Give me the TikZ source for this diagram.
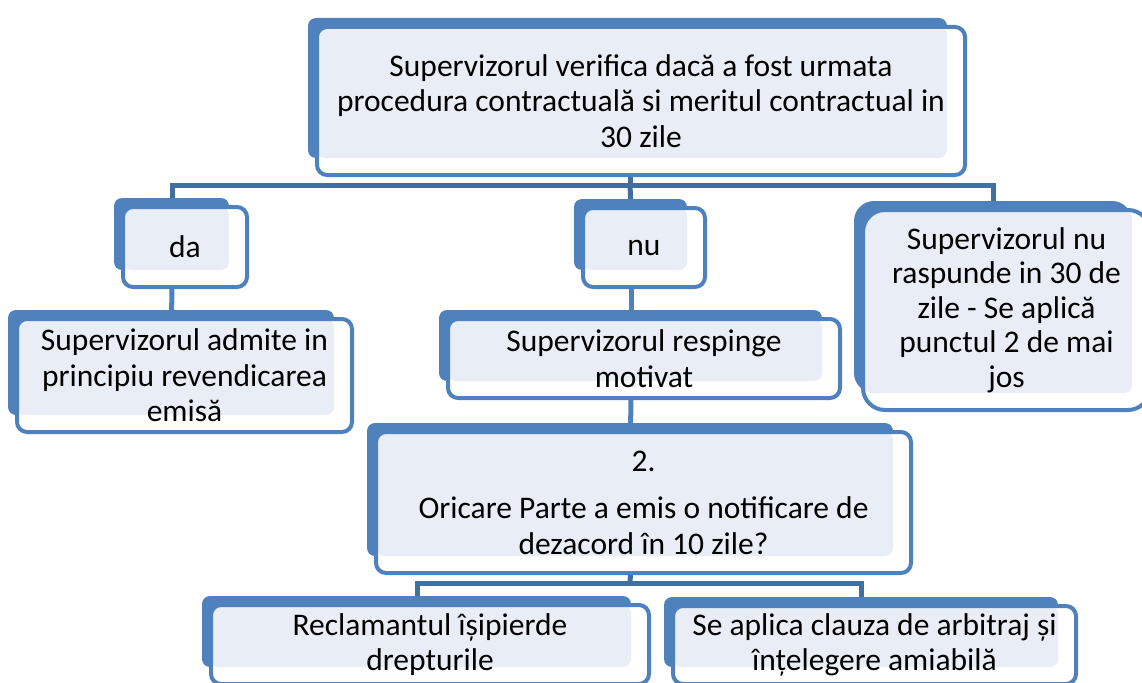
\documentclass[tikz,border=0pt]{standalone}
\usepackage{fontspec}
\setmainfont{Carlito}
\usetikzlibrary{backgrounds}
\definecolor{cardblue}{HTML}{4F81BD}
\definecolor{cardlight}{HTML}{E9EEF6}
\definecolor{busblue}{HTML}{41709F}
\tikzset{
  card/.style={draw=cardblue, line width=4pt, fill=white, rounded corners=10pt,
    inner sep=0pt, outer sep=0pt, align=center,
    font=\fontsize{31.5}{35.5}\selectfont,
    path picture={\fill[cardlight, rounded corners=8pt]
      (path picture bounding box.north west) rectangle
      ([shift={(-18,-17)}]path picture bounding box.south east);}},
  link/.style={draw=cardblue, line width=5pt},
  bus/.style={draw=busblue, line width=5pt},
}
\begin{document}
\begin{tikzpicture}[x=1pt,y=-1pt]
  \useasboundingbox (0,0) rectangle (1142,682);
  \node[card, minimum width=648pt, minimum height=148pt] (top) at (641,101)
    {Supervizorul verifica dacă a fost urmata\\procedura contractuală si meritul contractual in\\30 zile};
  \node[card, minimum width=124pt, minimum height=80pt] (da) at (185,247) {da};
  \node[card, minimum width=122pt, minimum height=79pt] (nu) at (644,247.5) {nu};
  \node[card, rounded corners=22pt, minimum width=287pt, minimum height=200pt,
    font=\fontsize{31.5}{34.5}\selectfont] (nuraspunde) at (1006.5,310)
    {Supervizorul nu\\raspunde in 30 de\\zile - Se aplică\\punctul 2 de mai\\jos};
  \node[card, minimum width=335pt, minimum height=113pt] (admite) at (184.5,375.5)
    {Supervizorul admite in\\principiu revendicarea\\emisă};
  \node[card, minimum width=392pt, minimum height=79pt] (respinge) at (644,358.5)
    {Supervizorul respinge\\motivat};
  \node[card, minimum width=535pt, minimum height=141pt] (doi) at (643.5,502.5)
    {2.\\[12pt]Oricare Parte a emis o notificare de\\dezacord în 10 zile?};
  \node[card, minimum width=438pt, minimum height=79pt] (reclam) at (430,644.5)
    {Reclamantul îșipierde\\drepturile};
  \node[card, minimum width=403pt, minimum height=78pt] (arbitraj) at (874.5,645)
    {Se aplica clauza de arbitraj și\\înțelegere amiabilă};
  \coordinate (bus1) at (630,185);
  \coordinate (bus2) at (630,583);
  \begin{scope}[on background layer]
    % connectors
    \draw[bus] ([xshift=-11]top.south) -- (bus1);
    \draw[bus] ([xshift=-13]da.north) |- (bus1) -| ([xshift=-13]nuraspunde.north);
    \draw[bus] (bus1) -- ([xshift=-13]nu.north);
    \draw[link] ([xshift=-13]da.south) -- ([xshift=-13]admite.north);
    \draw[link] ([xshift=-13]nu.south) -- ([xshift=-13]respinge.north);
    \draw[link] ([xshift=-13]respinge.south) -- ([xshift=-13]doi.north);
    \draw[bus] ([xshift=-13]doi.south) -- (bus2);
    \draw[bus] ([xshift=-13]reclam.north) |- (bus2) -| ([xshift=-13]arbitraj.north);
    % back cards
    \foreach \b in {top,da,nu,admite,respinge,doi,reclam,arbitraj}
      \fill[cardblue, rounded corners=8pt] ([shift={(-9,-9)}]\b.north west)
        rectangle ([shift={(-18,-17)}]\b.south east);
    \fill[cardblue, rounded corners=20pt] ([shift={(-9,-9)}]nuraspunde.north west)
      rectangle ([shift={(-18,-17)}]nuraspunde.south east);
  \end{scope}
\end{tikzpicture}
\end{document}
